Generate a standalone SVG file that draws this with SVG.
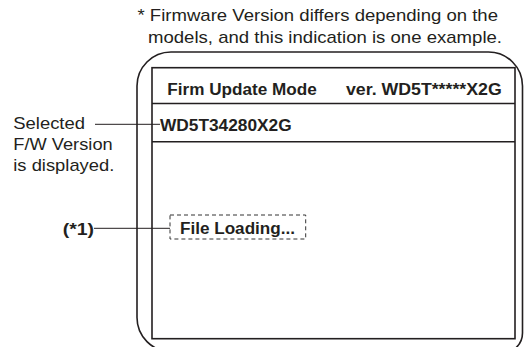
<svg xmlns="http://www.w3.org/2000/svg" width="524" height="347" viewBox="0 0 524 347">
<style>
.t{font-family:"Liberation Sans",Arial,sans-serif;fill:#231f20}
.r{font-size:17px}
.b{font-size:16px;font-weight:bold}
.ln{stroke:#231f20;stroke-width:1.6;fill:none}
.ld{stroke:#231f20;stroke-width:1;fill:none}
</style>
<rect width="524" height="347" fill="#fff"/>
<g id="note">
<text class="t r" x="137.5" y="21" textLength="360.5" lengthAdjust="spacingAndGlyphs">* Firmware Version differs depending on the</text>
<text class="t r" x="148" y="43" textLength="354" lengthAdjust="spacingAndGlyphs">models, and this indication is one example.</text>
</g>
<g id="device">
<path class="ln" d="M171 52 H488.5 A34 34 0 0 1 522.5 86 V333 A20 20 0 0 1 502.5 353 M137 317.6 V86 A34 34 0 0 1 171 52 M137 317.6 A34 34 0 0 0 171 351.6"/>
</g>
<g id="screen">
<rect class="ln" x="152" y="67.7" width="363" height="271" stroke-width="1.8"/>
<line class="ln" x1="152" y1="103.5" x2="515" y2="103.5"/>
<line class="ln" x1="152" y1="141.7" x2="515" y2="141.7"/>
<text class="t b" x="167.3" y="95" textLength="149.4" lengthAdjust="spacingAndGlyphs">Firm Update Mode</text>
<text class="t b" x="346" y="95" textLength="155.7" lengthAdjust="spacingAndGlyphs">ver. WD5T*****X2G</text>
</g>
<g id="fw-version">
<text class="t b" x="160" y="130.7" textLength="131.7" lengthAdjust="spacingAndGlyphs">WD5T34280X2G</text>
</g>
<g id="file-loading">
<rect x="170" y="215" width="135.7" height="24" fill="none" stroke="#333" stroke-width="1" stroke-dasharray="4 3"/>
<text class="t b" x="180" y="234.3" textLength="115" lengthAdjust="spacingAndGlyphs">File Loading...</text>
</g>
<g id="label-selected">
<text class="t r" x="13.3" y="129.3" textLength="71.7" lengthAdjust="spacingAndGlyphs">Selected</text>
<text class="t r" x="13.3" y="150" textLength="99.4" lengthAdjust="spacingAndGlyphs">F/W Version</text>
<text class="t r" x="13.3" y="171" textLength="101" lengthAdjust="spacingAndGlyphs">is displayed.</text>
</g>
<g id="label-1">
<text class="t b" x="62.7" y="235" textLength="31.3" lengthAdjust="spacingAndGlyphs">(*1)</text>
</g>
<g id="connectors">
<line class="ld" x1="95" y1="124.3" x2="160" y2="124.3"/>
<line class="ld" x1="94" y1="228.3" x2="170" y2="228.3"/>
</g>
</svg>
